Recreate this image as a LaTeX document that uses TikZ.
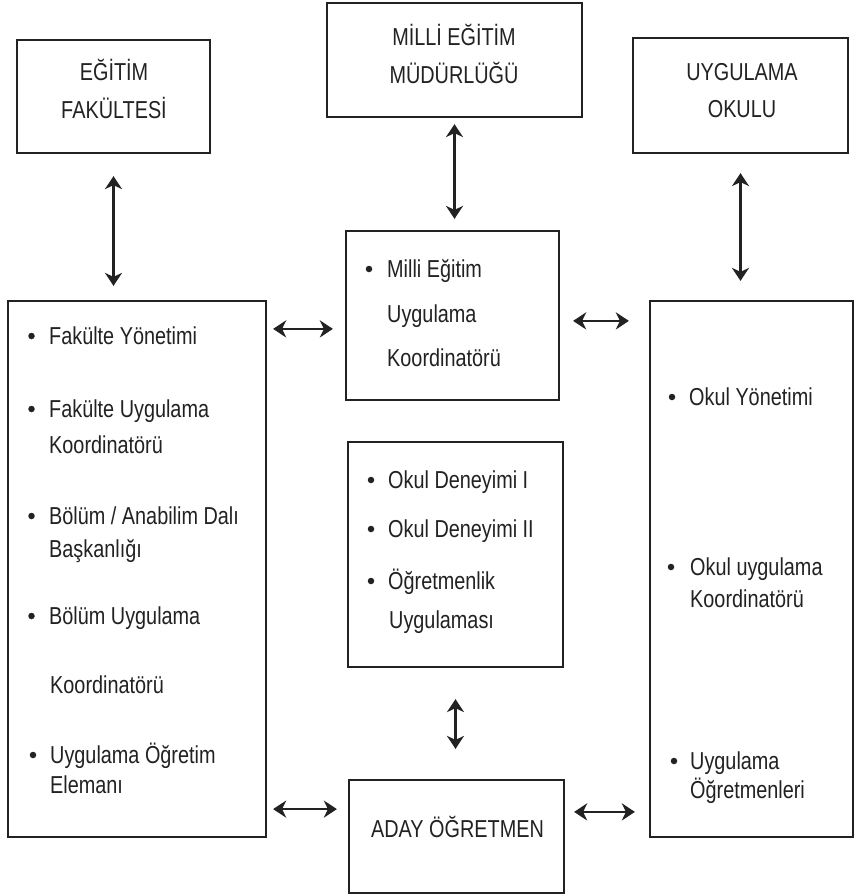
\documentclass[tikz,border=0pt]{standalone}
\usepackage{fontspec}
\setmainfont[FakeStretch=0.81]{Liberation Sans}
\usetikzlibrary{arrows.meta,calc}
\definecolor{ink}{HTML}{222222}
\begin{document}
\begin{tikzpicture}[x=1pt,y=-1pt,
  box/.style={draw=ink, line width=2.2pt, rectangle, inner sep=0pt},
  txt/.style={anchor=base west, inner sep=0pt, text=ink, font=\fontsize{24.5}{29}\selectfont},
  ttl/.style={anchor=base, inner sep=0pt, text=ink, font=\fontsize{24.5}{29}\selectfont},
  bul/.style={circle, fill=ink, inner sep=0pt, minimum size=6.5pt},
  tip/.style={Stealth[length=13pt,width=17pt,inset=4pt]},
  arr/.style={draw=ink, line width=2.6pt, {Stealth[length=13pt,width=17pt,inset=4pt]}-{Stealth[length=13pt,width=17pt,inset=4pt]}}]
\fill[white] (0,0) rectangle (854,894);
\useasboundingbox (0,0) rectangle (854,894);

% boxes
\node[box, minimum width=193pt, minimum height=113pt] (ef) at (113.5,96.5) {};
\node[box, minimum width=255pt, minimum height=114pt] (mem) at (454.5,60) {};
\node[box, minimum width=215pt, minimum height=115pt] (uo) at (740.5,95.5) {};
\node[box, minimum width=258pt, minimum height=536pt] (L) at (137,569) {};
\node[box, minimum width=213pt, minimum height=169pt] (mk) at (452.5,315.5) {};
\node[box, minimum width=215pt, minimum height=225pt] (od) at (455.5,554.5) {};
\node[box, minimum width=215pt, minimum height=113pt] (aday) at (456.5,836.5) {};
\node[box, minimum width=203pt, minimum height=536pt] (R) at (751.5,569) {};

% titles
\node[ttl] (t1) at (114,80) {EĞİTİM};
\node[ttl] (t2) at (114,118) {FAKÜLTESİ};
\node[ttl] (t3) at (454,45) {MİLLİ EĞİTİM};
\node[ttl] (t4) at (454,83) {MÜDÜRLÜĞÜ};
\node[ttl] (t5) at (742,80) {UYGULAMA};
\node[ttl] (t6) at (742,117) {OKULU};
\node[ttl] (t7) at (457.5,837) {ADAY ÖĞRETMEN};

% left box
\node[bul] (lb1) at (31.5,336) {};
\node[txt] (l1) at (49,344) {Fakülte Yönetimi};
\node[bul] (lb2) at (31.5,409) {};
\node[txt] (l2) at (49,417) {Fakülte Uygulama};
\node[txt] (l3) at (49,453) {Koordinatörü};
\node[bul] (lb3) at (31.5,516) {};
\node[txt] (l4) at (49,524) {Bölüm / Anabilim Dalı};
\node[txt] (l5) at (49,557) {Başkanlığı};
\node[bul] (lb4) at (31.5,616) {};
\node[txt] (l6) at (49,624) {Bölüm Uygulama};
\node[txt] (l7) at (50,693) {Koordinatörü};
\node[bul] (lb5) at (33,755) {};
\node[txt] (l8) at (50,763) {Uygulama Öğretim};
\node[txt] (l9) at (50,793) {Elemanı};

% middle upper box
\node[bul] (mb1) at (369,269) {};
\node[txt] (m1) at (387,277) {Milli Eğitim};
\node[txt] (m2) at (387,322) {Uygulama};
\node[txt] (m3) at (387,366) {Koordinatörü};

% middle box
\node[bul] (ob1) at (371,480) {};
\node[txt] (o1) at (388,488) {Okul Deneyimi I};
\node[bul] (ob2) at (371,529) {};
\node[txt] (o2) at (388,537) {Okul Deneyimi II};
\node[bul] (ob3) at (371,581) {};
\node[txt] (o3) at (388,589) {Öğretmenlik};
\node[txt] (o4) at (389,628) {Uygulaması};

% right box
\node[bul] (rb1) at (672,397) {};
\node[txt] (r1) at (689,405) {Okul Yönetimi};
\node[bul] (rb2) at (671,567) {};
\node[txt] (r2) at (690,575) {Okul uygulama};
\node[txt] (r3) at (690,607) {Koordinatörü};
\node[bul] (rb3) at (674,761) {};
\node[txt] (r4) at (690,769) {Uygulama};
\node[txt] (r5) at (690,798) {Öğretmenleri};

% connectors
\draw[arr, shorten <=22pt, shorten >=14pt] (ef.south) -- (ef.south |- L.north);
\draw[arr, shorten <=6pt, shorten >=11pt] (mem.south) -- (mem.south |- mk.north);
\draw[arr, shorten <=19pt, shorten >=19pt] (uo.south) -- (uo.south |- R.north);
\coordinate (h1) at ($(L.north east)+(0,29)$);
\draw[arr, shorten <=6pt, shorten >=12pt] (h1) -- (h1 -| mk.west);
\coordinate (h2) at ($(mk.north east)+(0,91)$);
\draw[arr, shorten <=13pt, shorten >=20pt] (h2) -- (h2 -| R.west);
\draw[arr, shorten <=31pt, shorten >=30pt] (od.south) -- (od.south |- aday.north);
\coordinate (h3) at ($(L.south east)+(0,-29)$);
\draw[arr, shorten <=6pt, shorten >=11pt] (h3) -- (h3 -| aday.west);
\coordinate (h4) at ($(aday.north east)+(0,33)$);
\draw[arr, shorten <=9pt, shorten >=14pt] (h4) -- (h4 -| R.west);
\end{tikzpicture}
\end{document}
